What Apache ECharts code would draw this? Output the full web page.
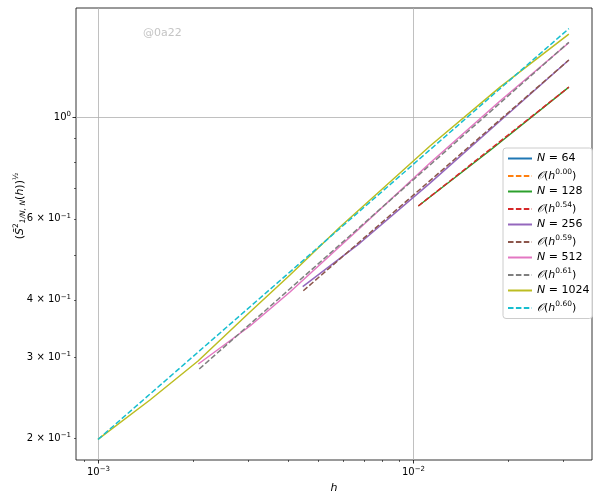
<!DOCTYPE html>
<html><head><meta charset="utf-8">
<script src="https://cdn.jsdelivr.net/npm/echarts@6/dist/echarts.min.js"></script>
<style>html,body{margin:0;padding:0;background:#fff}#c{width:600px;height:501px}</style>
</head><body><div id="c"></div><script>
// ---- data ----
const h64 = [];            const s64 = [];
const fit64H = [];         const fit64S = [];
const h128 = [0.010395, 0.01755, 0.03125];  const s128 = [0.640, 0.8454, 1.162];
const fit128H = [0.010395, 0.03125];        const fit128S = [0.640, 1.162];
const h256 = [0.004466, 0.006788, 0.011324, 0.01889, 0.03125];
const s256 = [0.4270, 0.5315, 0.7180, 0.9801, 1.331];
const fit256H = [0.004485, 0.03125];        const fit256S = [0.4184, 1.331];
const h512 = [0.002082, 0.003038, 0.004069, 0.006788, 0.011324, 0.01889, 0.03125];
const s512 = [0.2898, 0.3506, 0.4158, 0.5731, 0.7940, 1.0835, 1.451];
const fit512H = [0.002096, 0.03125];        const fit512S = [0.2826, 1.455];
const h1024 = [0.001, 0.001462, 0.002078, 0.003038, 0.004069, 0.005866, 0.011324, 0.01889, 0.03125];
const s1024 = [0.1985, 0.2419, 0.2942, 0.3761, 0.4529, 0.5761, 0.8647, 1.162, 1.516];
const fit1024H = [0.001, 0.03125];          const fit1024S = [0.1985, 1.558];
const fitExp = {fit64:'0.00', fit128:'0.54', fit256:'0.59', fit512:'0.61', fit1024:'0.60'};
const xMajor = [0.001, 0.01];
const xMajorLabels = ['10{s|−3}', '10{s|−2}'];
const xMinor = [0.0009, 0.002,0.003,0.004,0.005,0.006,0.007,0.008,0.009, 0.02,0.03];
const yMajor = [1];
const yMinor = [0.2,0.3,0.4,0.5,0.6,0.7,0.8,0.9];
const yLabelVals = [1, 0.6, 0.4, 0.3, 0.2];
const yLabels = ['10{s|0}', '6 × 10{s|−1}', '4 × 10{s|−1}', '3 × 10{s|−1}', '2 × 10{s|−1}'];

const X_MIN = Math.pow(10, -3.0698), X_MAX = Math.pow(10, -1.4317);
const Y_MIN = Math.pow(10, -0.7470), Y_MAX = Math.pow(10, 0.2374);

const FONT = 'DejaVu Sans';
function mk(name, hs, ys, color, dashed) {
  return {
    name, type: 'line', data: hs.map((h, i) => [h, ys[i]]),
    symbol: 'none', showSymbol: false, animation: false, smooth: false,
    lineStyle: {color, width: 1.5, type: dashed ? [5.5, 2.4] : 'solid'},
    itemStyle: {color}
  };
}
const series = [
  mk('N64', h64, s64, '#1f77b4', false),
  mk('fit64', fit64H, fit64S, '#ff7f0e', true),
  mk('N128', h128, s128, '#2ca02c', false),
  mk('fit128', fit128H, fit128S, '#d62728', true),
  mk('N256', h256, s256, '#9467bd', false),
  mk('fit256', fit256H, fit256S, '#8c564b', true),
  mk('N512', h512, s512, '#e377c2', false),
  mk('fit512', fit512H, fit512S, '#7f7f7f', true),
  mk('N1024', h1024, s1024, '#bcbd22', false),
  mk('fit1024', fit1024H, fit1024S, '#17becf', true)
];

const chart = echarts.init(document.getElementById('c'));
const richBase = {
  i: {fontStyle: 'italic', fontSize: 11, fontFamily: FONT, color: '#000'},
  c: {fontSize: 11, fontFamily: 'DejaVu Serif', fontStyle: 'italic', color: '#000'},
  s: {fontSize: 7.5, fontFamily: FONT, color: '#000', padding: [0, 0, 7, 0]}
};
chart.setOption({
  backgroundColor: '#fff',
  animation: false,
  grid: {left: 76, right: 8, top: 8, bottom: 41, show: true, borderColor: '#000', borderWidth: 0.8, containLabel: false},
  xAxis: {type: 'log', logBase: 10, min: X_MIN, max: X_MAX, axisLine: {show: false}, axisTick: {show: false}, axisLabel: {show: false}, splitLine: {show: false}},
  yAxis: {type: 'log', logBase: 10, min: Y_MIN, max: Y_MAX, axisLine: {show: false}, axisTick: {show: false}, axisLabel: {show: false}, splitLine: {show: false}},
  legend: {
    orient: 'vertical', left: 503, top: 148, itemWidth: 24, itemHeight: 12, itemGap: 4.5,
    backgroundColor: 'rgba(255,255,255,0.8)', borderColor: '#cccccc', borderWidth: 1, borderRadius: 3,
    padding: [5, 3, 5, 4],
    itemStyle: {color: 'rgba(0,0,0,0)', borderColor: 'rgba(0,0,0,0)', borderWidth: 0, opacity: 0},
    textStyle: {fontSize: 11, fontFamily: FONT, color: '#000', rich: richBase},
    formatter: function (name) {
      if (name.indexOf('fit') === 0) return '{c|𝒪}({i|h}{s|' + fitExp[name] + '})';
      return '{i|N} = ' + name.slice(1);
    },
    data: series.map(s => s.name)
  },
  series
});

function buildGraphics() {
  const g = [];
  const P = (x, y) => chart.convertToPixel({gridIndex: 0}, [x, y]);
  const L = 76, R = 592, T = 8, B = 460;
  const gridStyle = {stroke: '#b0b0b0', lineWidth: 0.8};
  xMajor.forEach((v, i) => {
    const px = Math.round(P(v, 1)[0]) + 0.5;
    g.push({type: 'line', shape: {x1: px, y1: T, x2: px, y2: B}, style: gridStyle, z: 0, silent: true});
    g.push({type: 'line', shape: {x1: px, y1: B, x2: px, y2: B + 3.5}, style: {stroke: '#000', lineWidth: 0.8}, silent: true});
    g.push({type: 'text', x: px, y: B + 6, style: {text: xMajorLabels[i], fontSize: 10, fontFamily: FONT, fill: '#000', align: 'center', verticalAlign: 'top',
      rich: {s: {fontSize: 7, fontFamily: FONT, fill: '#000', padding: [0, 0, 6, 0]}}}, silent: true});
  });
  xMinor.forEach(v => {
    const px = Math.round(P(v, 1)[0]) + 0.5;
    g.push({type: 'line', shape: {x1: px, y1: B, x2: px, y2: B + 2}, style: {stroke: '#000', lineWidth: 0.6}, silent: true});
  });
  yMajor.forEach(v => {
    const py = Math.round(P(0.01, v)[1]) + 0.5;
    g.push({type: 'line', shape: {x1: L, y1: py, x2: R, y2: py}, style: gridStyle, z: 0, silent: true});
    g.push({type: 'line', shape: {x1: L - 3.5, y1: py, x2: L, y2: py}, style: {stroke: '#000', lineWidth: 0.8}, silent: true});
  });
  yMinor.forEach(v => {
    const py = Math.round(P(0.01, v)[1]) + 0.5;
    g.push({type: 'line', shape: {x1: L - 2, y1: py, x2: L, y2: py}, style: {stroke: '#000', lineWidth: 0.6}, silent: true});
  });
  yLabelVals.forEach((v, i) => {
    const py = P(0.01, v)[1];
    g.push({type: 'text', x: L - 5, y: py, style: {text: yLabels[i], fontSize: 10, fontFamily: FONT, fill: '#000', align: 'right', verticalAlign: 'middle',
      rich: {s: {fontSize: 7, fontFamily: FONT, fill: '#000', padding: [0, 0, 6, 0]}}}, silent: true});
  });
  // axis titles
  g.push({type: 'text', x: 334, y: 488, style: {text: 'h', fontSize: 11, fontStyle: 'italic', fontFamily: FONT, fill: '#000', align: 'center', verticalAlign: 'middle'}, silent: true});
  g.push({type: 'text', x: 20, y: 206, rotation: Math.PI / 2,
    style: {text: '({i|S̄}{s|2}{b|1/N, N}({i|h})){s|½}', fontSize: 11, fontFamily: FONT, fill: '#000', align: 'center', verticalAlign: 'middle',
      rich: {i: {fontStyle: 'italic', fontSize: 11, fontFamily: FONT, fill: '#000'},
             s: {fontSize: 7.5, fontFamily: FONT, fill: '#000', padding: [0, 0, 7, 0]},
             b: {fontSize: 7.5, fontFamily: FONT, fontStyle: 'italic', fill: '#000', padding: [6, 0, 0, 0]}}}, silent: true});
  // watermark
  g.push({type: 'text', x: 143, y: 33, style: {text: '@0a22', fontSize: 11, fontFamily: FONT, fill: '#c4c4c4', align: 'left', verticalAlign: 'middle'}, silent: true});
  chart.setOption({graphic: {elements: g}});
}
buildGraphics();
</script></body></html>
